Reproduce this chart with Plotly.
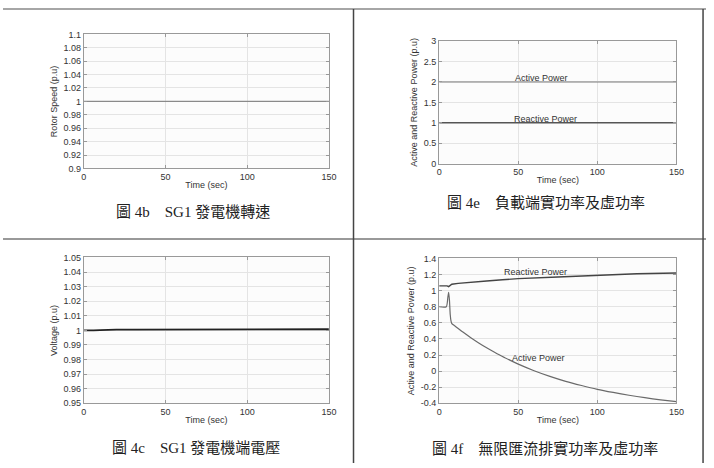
import plotly.graph_objects as go

W, H = 714, 468

# ---------- data ----------
t_flat = [0, 150]
rotor_speed = [1.0, 1.0]

load_active = [2.0, 2.0]
load_reactive = [1.0, 1.0]

t_volt = [0, 3, 6, 10, 15, 20, 30, 50, 75, 100, 125, 150]
voltage = [1.0, 0.9999, 1.0, 1.0002, 1.0006, 1.0005, 1.0005, 1.0006, 1.0007, 1.0008, 1.0008, 1.0008]

t_bus = [0, 4.5, 5.5, 6, 6.5, 7, 7.5, 8, 10, 15, 20, 25, 30, 35, 40, 45, 50, 60, 70, 80, 90, 100,
         110, 120, 130, 140, 150]
bus_active = [0.8, 0.8, 0.92, 0.98, 0.88, 0.7, 0.62, 0.59, 0.56, 0.485, 0.415, 0.35, 0.29, 0.234, 0.181,
              0.133, 0.087, 0.005, -0.065, -0.127, -0.179, -0.226, -0.265, -0.30, -0.33, -0.357, -0.38]
t_bus_q = [0, 5, 6, 7, 8, 12, 20, 30, 40, 50, 75, 100, 125, 150]
bus_reactive = [1.06, 1.06, 1.05, 1.07, 1.08, 1.09, 1.10, 1.12, 1.135, 1.15, 1.17, 1.19, 1.21, 1.22]

x_ticks = [0, 50, 100, 150]
y1_ticks = [0.9, 0.92, 0.94, 0.96, 0.98, 1.0, 1.02, 1.04, 1.06, 1.08, 1.1]
y1_text = ["0.9", "0.92", "0.94", "0.96", "0.98", "1", "1.02", "1.04", "1.06", "1.08", "1.1"]
y2_ticks = [0, 0.5, 1, 1.5, 2, 2.5, 3]
y2_text = ["0", "0.5", "1", "1.5", "2", "2.5", "3"]
y3_ticks = [0.95, 0.96, 0.97, 0.98, 0.99, 1.0, 1.01, 1.02, 1.03, 1.04, 1.05]
y3_text = ["0.95", "0.96", "0.97", "0.98", "0.99", "1", "1.01", "1.02", "1.03", "1.04", "1.05"]
y4_ticks = [-0.4, -0.2, 0, 0.2, 0.4, 0.6, 0.8, 1.0, 1.2, 1.4]
y4_text = ["-0.4", "-0.2", "0", "0.2", "0.4", "0.6", "0.8", "1", "1.2", "1.4"]

captions = ["圖 4b　SG1 發電機轉速", "圖 4e　負載端實功率及虛功率",
            "圖 4c　SG1 發電機端電壓", "圖 4f　無限匯流排實功率及虛功率"]

# ---------- helpers ----------
def px(x):
    return x / W

def py(y):
    return 1 - y / H

tick_font = dict(family="Liberation Sans, Arial, sans-serif", size=9, color="#333")
title_font = dict(family="Liberation Sans, Arial, sans-serif", size=9, color="#333")

def xaxis(dom, anchor):
    return dict(domain=dom, anchor=anchor, range=[0, 150], tickvals=x_ticks, ticktext=[str(v) for v in x_ticks],
                showline=True, linecolor="#999", linewidth=1, mirror="ticks", ticks="inside", ticklen=3,
                tickcolor="#999", showgrid=True, gridcolor="#e4e4e4", gridwidth=1, zeroline=False,
                tickfont=tick_font, title=dict(text="Time (sec)", font=title_font, standoff=0))

def yaxis(dom, anchor, rng, tv, tt, title):
    return dict(domain=dom, anchor=anchor, range=rng, tickvals=tv, ticktext=tt,
                showline=True, linecolor="#999", linewidth=1, mirror="ticks", ticks="inside", ticklen=3,
                tickcolor="#999", showgrid=True, gridcolor="#e4e4e4", gridwidth=1, zeroline=False,
                tickfont=tick_font, title=dict(text=title, font=title_font, standoff=4))

fig = go.Figure()
fig.add_trace(go.Scatter(x=t_flat, y=rotor_speed, mode="lines", line=dict(color="#8a8a8a", width=1.3),
                         xaxis="x", yaxis="y", showlegend=False))
fig.add_trace(go.Scatter(x=t_flat, y=load_active, mode="lines", line=dict(color="#7a7a7a", width=1.2),
                         xaxis="x2", yaxis="y2", showlegend=False))
fig.add_trace(go.Scatter(x=t_flat, y=load_reactive, mode="lines", line=dict(color="#555", width=1.6),
                         xaxis="x2", yaxis="y2", showlegend=False))
fig.add_trace(go.Scatter(x=t_volt, y=voltage, mode="lines", line=dict(color="#222", width=1.8),
                         xaxis="x3", yaxis="y3", showlegend=False))
fig.add_trace(go.Scatter(x=t_bus, y=bus_active, mode="lines", line=dict(color="#6a6a6a", width=1.2, shape="spline", smoothing=0.6),
                         xaxis="x4", yaxis="y4", showlegend=False))
fig.add_trace(go.Scatter(x=t_bus_q, y=bus_reactive, mode="lines", line=dict(color="#444", width=1.4),
                         xaxis="x4", yaxis="y4", showlegend=False))

d1x, d1y = [px(82), px(331)], [py(167), py(30)]
d2x, d2y = [px(443), px(684)], [py(162), py(37)]
d3x, d3y = [px(82), px(331)], [py(407), py(258)]
d4x, d4y = [px(443), px(684)], [py(407), py(259)]

fig.update_layout(
    width=W, height=H, margin=dict(l=0, r=0, t=0, b=0),
    paper_bgcolor="white", plot_bgcolor="#fcfcfc", showlegend=False,
    xaxis=xaxis(d1x, "y"), yaxis=yaxis(d1y, "x", [0.9, 1.1], y1_ticks, y1_text, "Rotor Speed (p.u)"),
    xaxis2=xaxis(d2x, "y2"), yaxis2=yaxis(d2y, "x2", [0, 3], y2_ticks, y2_text, "Active and Reactive Power (p.u)"),
    xaxis3=xaxis(d3x, "y3"), yaxis3=yaxis(d3y, "x3", [0.95, 1.05], y3_ticks, y3_text, "Voltage (p.u)"),
    xaxis4=xaxis(d4x, "y4"), yaxis4=yaxis(d4y, "x4", [-0.4, 1.4], y4_ticks, y4_text, "Active and Reactive Power (p.u)"),
)

ann_font = dict(family="Liberation Sans, Arial, sans-serif", size=9, color="#333")
fig.add_annotation(x=65, y=2.1, xref="x2", yref="y2", text="Active Power", showarrow=False, font=ann_font)
fig.add_annotation(x=67, y=1.1, xref="x2", yref="y2", text="Reactive Power", showarrow=False, font=ann_font)
fig.add_annotation(x=61, y=1.235, xref="x4", yref="y4", text="Reactive Power", showarrow=False, font=ann_font)
fig.add_annotation(x=63, y=0.165, xref="x4", yref="y4", text="Active Power", showarrow=False, font=ann_font)

cap_font = dict(family="Liberation Serif, Times New Roman, Noto Sans CJK TC, serif", size=15, color="#222")
cap_pos = [(193, 212), (551, 202), (196, 453), (550, 453)]
for text, (cx, cy) in zip(captions, cap_pos):
    fig.add_annotation(x=px(cx), y=py(cy), xref="paper", yref="paper", text=text, showarrow=False,
                       font=cap_font, xanchor="center", yanchor="middle")

# table lines
line_gray = dict(color="#888", width=1.5)
fig.add_shape(type="line", xref="paper", yref="paper", x0=0, x1=1, y0=py(4), y1=py(4), line=line_gray)
fig.add_shape(type="line", xref="paper", yref="paper", x0=0, x1=1, y0=py(239), y1=py(239), line=dict(color="#999", width=2))
fig.add_shape(type="line", xref="paper", yref="paper", x0=px(356), x1=px(356), y0=0, y1=py(4), line=dict(color="#444", width=1.5))
fig.add_shape(type="line", xref="paper", yref="paper", x0=px(711), x1=px(711), y0=0, y1=py(4), line=dict(color="#444", width=1.5))

fig.write_html("out.html")
